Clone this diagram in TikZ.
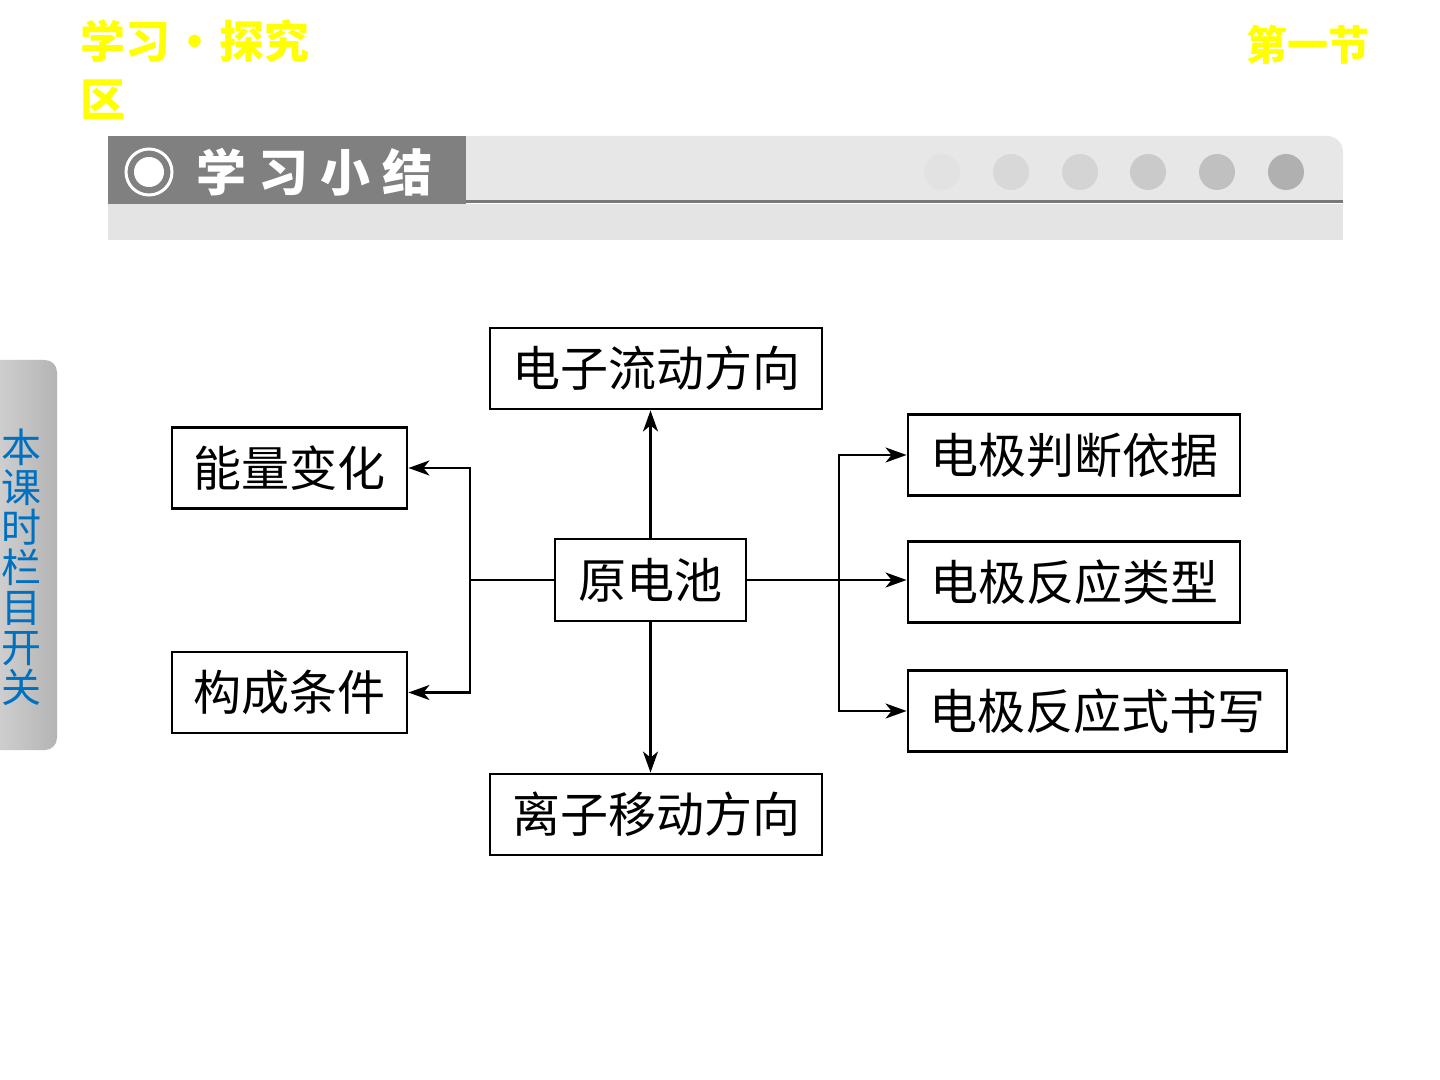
\documentclass[tikz,border=0pt]{standalone}
\usepackage{fontspec}
\setmainfont{Liberation Serif}
\newfontfamily\cjk{Noto Sans CJK SC}
\usetikzlibrary{arrows.meta}
\tikzset{every picture/.style={line width=0.75pt}}

\begin{document}
\begin{tikzpicture}[x=0.5pt,y=0.5pt,yscale=-1,xscale=1,
  kuang/.style={draw, line width=1.45pt, inner sep=0pt, minimum height=40.5pt, font=\cjk\fontsize{24}{24}\selectfont},
  jian/.style={line width=1.15pt, -{Stealth[length=10.5pt,width=7.5pt,inset=3pt]}}]
%set diagram left start at 0, and has size 1440x1080
\useasboundingbox (0,0) rectangle (1440,1080);
\fill[white] (0,0) rectangle (1440,1080);

%Shape: Rectangle
\fill [color={rgb, 255:red, 228; green, 228; blue, 228 }] (108,204) rectangle (1343,240);
%Shape: Rectangle
\fill [color={rgb, 255:red, 231; green, 231; blue, 231 }, rounded corners=8pt] (466,136) rectangle (1343,201);
\fill [color={rgb, 255:red, 231; green, 231; blue, 231 }] (466,136) rectangle (1310,201);
\fill [color={rgb, 255:red, 231; green, 231; blue, 231 }] (466,170) rectangle (1343,201);
%Straight Lines
\draw [color={rgb, 255:red, 120; green, 120; blue, 120 }][line width=1.5pt] (466,202) -- (1343,202);
%Shape: Rectangle
\fill [color={rgb, 255:red, 128; green, 128; blue, 128 }] (108,136) rectangle (466,204);
%Shape: Circle
\draw [white][line width=1.5pt] (149,172) circle (11.5pt);
%Shape: Circle
\fill [white] (149,172) circle (7.5pt);
% Text Node
\node [anchor=west, inner sep=0pt, text=white, font=\cjk\bfseries\fontsize{25}{25}\selectfont] (xiaojie) at (196,172) {学\hspace{6pt}习\hspace{6pt}小\hspace{6pt}结};

%Shape: Circle
\fill [color={rgb, 255:red, 226; green, 226; blue, 226 }] (942,172) circle (9pt);
%Shape: Circle
\fill [color={rgb, 255:red, 216; green, 216; blue, 216 }] (1011,172) circle (9pt);
%Shape: Circle
\fill [color={rgb, 255:red, 212; green, 212; blue, 212 }] (1080,172) circle (9pt);
%Shape: Circle
\fill [color={rgb, 255:red, 202; green, 202; blue, 202 }] (1148,172) circle (9pt);
%Shape: Circle
\fill [color={rgb, 255:red, 192; green, 192; blue, 192 }] (1217,172) circle (9pt);
%Shape: Circle
\fill [color={rgb, 255:red, 176; green, 176; blue, 176 }] (1286,172) circle (9pt);

% Text Node
\node [anchor=north west, inner sep=0pt, align=left, text={rgb, 255:red, 255; green, 255; blue, 0 }, font=\cjk\bfseries\fontsize{22.5}{29}\selectfont] (biaoti) at (80,19) {学习\hspace{1pt}·\hspace{1pt}探究\\区};
% Text Node
\node [anchor=north east, inner sep=0pt, text={rgb, 255:red, 255; green, 255; blue, 0 }, font=\cjk\bfseries\fontsize{20.5}{20.5}\selectfont] (diyijie) at (1370,24) {第一节};

%Shape: Rectangle
\shade [left color={rgb, 255:red, 215; green, 215; blue, 215 }, right color={rgb, 255:red, 180; green, 180; blue, 180 }, rounded corners=6pt] (-20,360) rectangle (57,750);
% Text Node
\node [inner sep=0pt, align=center, text={rgb, 255:red, 0; green, 112; blue, 192 }, font=\cjk\fontsize{20}{20}\selectfont] (kaiguan) at (22,567) {本\\课\\时\\栏\\目\\开\\关};

% Boxes
\node [kuang, minimum width=166pt] (dianzi) at (656,368.5) {电子流动方向};
\node [kuang, minimum width=117.5pt] (nengliang) at (289.5,468) {能量变化};
\node [kuang, minimum width=117.5pt] (goucheng) at (289.5,692.5) {构成条件};
\node [kuang, minimum width=95.5pt, minimum height=41pt] (yuan) at (650.5,580) {原电池};
\node [kuang, minimum width=166pt] (lizi) at (656,814.5) {离子移动方向};
\node [kuang, minimum width=166pt] (panduan) at (1074,455) {电极判断依据};
\node [kuang, minimum width=166pt] (fanying) at (1074,582) {电极反应类型};
\node [kuang, minimum width=189.5pt] (shuxie) at (1097.5,711) {电极反应式书写};

% Connectors
\coordinate (zuo) at (470,580);
\coordinate (you) at (839,580);
\draw [line width=1.15pt] (yuan.west) -- (zuo);
\draw [jian] (zuo) |- (nengliang.east);
\draw [jian] (zuo) |- (goucheng.east);
\draw [jian] (yuan.north) -- (yuan.north |- dianzi.south);
\draw [jian] (yuan.south) -- (yuan.south |- lizi.north);
\draw [jian] (yuan.east) -- (yuan.east -| fanying.west);
\draw [jian] (you) |- (panduan.west);
\draw [jian] (you) |- (shuxie.west);

\end{tikzpicture}
\end{document}
